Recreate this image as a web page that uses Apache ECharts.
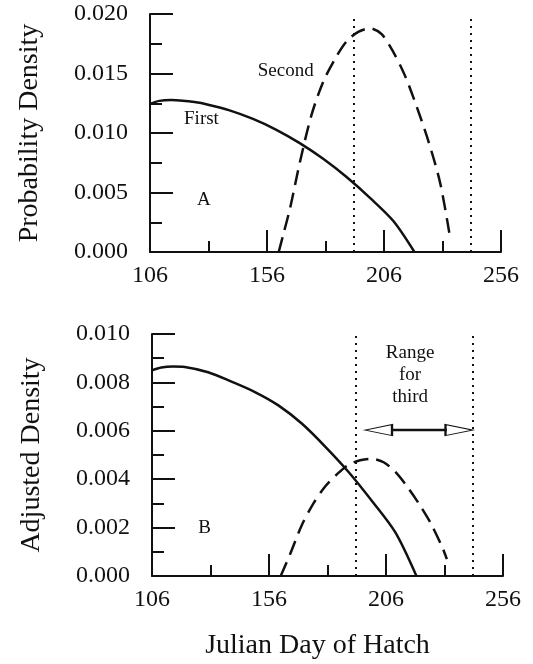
<!DOCTYPE html>
<html>
<head>
<meta charset="utf-8">
<script src="https://cdn.jsdelivr.net/npm/echarts@6/dist/echarts.min.js"></script>
<style>
  html, body { margin: 0; padding: 0; background: #fff; }
  #chart { width: 533px; height: 664px; }
</style>
</head>
<body>
<div id="chart"></div>
<script>
// panel A: probability density of hatch day
var firstA = [[106, 0.01245], [110, 0.0127], [115, 0.01277], [120, 0.01272], [125, 0.0126], [130, 0.01242],
  [140, 0.0119], [150, 0.01118], [160, 0.01027], [170, 0.00915], [180, 0.00783], [190, 0.0063],
  [200, 0.00455], [210, 0.0026], [219, 0]];
var secondA = [[161, 0], [163, 0.0015], [166, 0.0038], [170, 0.0075], [175, 0.0115], [180, 0.0143],
  [185, 0.0162], [190, 0.0177], [195, 0.0185], [200, 0.0188], [205, 0.0183], [210, 0.0168],
  [215, 0.0148], [220, 0.0122], [225, 0.0093], [230, 0.0058], [234, 0.0015]];

// panel B: adjusted density
var firstB = [[106, 0.0085], [110, 0.00862], [115, 0.00866], [120, 0.00864], [130, 0.00842], [140, 0.00803],
  [150, 0.0076], [160, 0.00705], [170, 0.0063], [180, 0.00535], [190, 0.0043], [200, 0.0031],
  [210, 0.0018], [219, 0]];
var secondB = [[161, 0], [165, 0.0009], [170, 0.0021], [175, 0.0030], [180, 0.0037], [185, 0.0042],
  [190, 0.0046], [195, 0.00478], [200, 0.00484], [205, 0.0047], [210, 0.0043], [215, 0.0037],
  [220, 0.0030], [225, 0.0022], [230, 0.0012], [232, 0.0007]];

// window for the third hatch
var rangeDays = [193, 243];
var arrowShaft = [[209, 0.00603], [232, 0.00603]];
var arrowHeads = [[202.8, 0.00603, 90], [237.2, 0.00603, -90]];

// text notes [day, value, text]
var notesA = [[164, 0.0152, 'Second'], [128, 0.0112, 'First'], [129, 0.0044, 'A']];
var notesB = [[128.5, 0.0020, 'B'], [216.3, 0.0083, 'Range\nfor\nthird']];

var serif = 'Liberation Serif';
var ink = '#111';

function xAxisCfg(idx, name) {
  return {
    type: 'value', gridIndex: idx, min: 106, max: 256, interval: 50,
    name: name, nameLocation: 'middle', nameGap: 56,
    nameTextStyle: { fontFamily: serif, fontSize: 28, color: ink, padding: [0, 20, 0, 0] },
    axisLine: { lineStyle: { color: ink, width: 2 } },
    axisTick: { inside: true, length: 22, lineStyle: { color: ink, width: 2 } },
    minorTick: { show: true, splitNumber: 2, length: 11, lineStyle: { color: ink, width: 2 } },
    axisLabel: { fontFamily: serif, fontSize: 24, color: ink, margin: 12 },
    splitLine: { show: false }
  };
}

function yAxisCfg(idx, max, step, name) {
  return {
    type: 'value', gridIndex: idx, min: 0, max: max, interval: step,
    name: name, nameLocation: 'middle', nameGap: 106,
    nameTextStyle: { fontFamily: serif, fontSize: 28, color: ink },
    axisLine: { show: true, lineStyle: { color: ink, width: 2 } },
    axisTick: { show: true, inside: true, length: 23, lineStyle: { color: ink, width: 2 } },
    minorTick: { show: true, splitNumber: 2, length: 12, lineStyle: { color: ink, width: 2 } },
    axisLabel: { fontFamily: serif, fontSize: 24, color: ink, margin: 22,
      formatter: function (v) { return v.toFixed(3); } },
    splitLine: { show: false }
  };
}

function rangeLines() {
  return {
    silent: true, symbol: 'none', label: { show: false },
    lineStyle: { color: ink, type: [2, 5], width: 2 },
    data: rangeDays.map(function (d) { return { xAxis: d }; })
  };
}

function notes(idx, list) {
  return {
    type: 'scatter', xAxisIndex: idx, yAxisIndex: idx, symbolSize: 0, silent: true,
    itemStyle: { opacity: 1 },
    data: list.map(function (n) { return { value: [n[0], n[1]], name: n[2] }; }),
    label: { show: true, position: 'inside', formatter: '{b}', fontFamily: serif,
      fontSize: 19, lineHeight: 22, color: ink }
  };
}

var chart = echarts.init(document.getElementById('chart'));
chart.setOption({
  animation: false,
  backgroundColor: '#fff',
  grid: [
    { left: 150, top: 14, width: 351, height: 238 },
    { left: 152, top: 334, width: 351, height: 242 }
  ],
  xAxis: [xAxisCfg(0, ''), xAxisCfg(1, 'Julian Day of Hatch')],
  yAxis: [yAxisCfg(0, 0.02, 0.005, 'Probability Density'), yAxisCfg(1, 0.01, 0.002, 'Adjusted Density')],
  series: [
    { type: 'line', xAxisIndex: 0, yAxisIndex: 0, data: firstA, smooth: 0.3, showSymbol: false,
      lineStyle: { color: ink, width: 2.5 }, markLine: rangeLines() },
    { type: 'line', xAxisIndex: 0, yAxisIndex: 0, data: secondA, smooth: 0.3, showSymbol: false,
      lineStyle: { color: ink, width: 2.5, type: [15, 8] } },
    notes(0, notesA),
    { type: 'line', xAxisIndex: 1, yAxisIndex: 1, data: firstB, smooth: 0.3, showSymbol: false,
      lineStyle: { color: ink, width: 2.5 }, markLine: rangeLines() },
    { type: 'line', xAxisIndex: 1, yAxisIndex: 1, data: secondB, smooth: 0.3, showSymbol: false,
      lineStyle: { color: ink, width: 2.5, type: [15, 8] } },
    notes(1, notesB),
    { type: 'line', xAxisIndex: 1, yAxisIndex: 1, data: arrowShaft, showSymbol: false,
      lineStyle: { color: ink, width: 2.5 } },
    { type: 'scatter', xAxisIndex: 1, yAxisIndex: 1, silent: true, symbol: 'triangle',
      symbolSize: [11, 27],
      symbolRotate: function (v) { return v[2]; },
      data: arrowHeads,
      itemStyle: { color: '#fff', borderColor: ink, borderWidth: 1.5, opacity: 1 } }
  ]
});
</script>
</body>
</html>
